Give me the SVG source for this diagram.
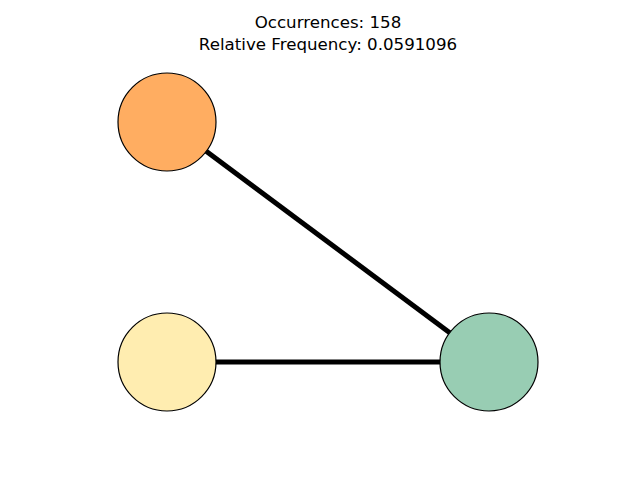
<svg xmlns="http://www.w3.org/2000/svg" width="640" height="480" viewBox="0 0 640 480">
<style>
.node{stroke:#000;stroke-width:1.2}
.edge{stroke:#000;stroke-width:5;fill:none}
.title{font-family:"DejaVu Sans",sans-serif;font-size:16.67px;fill:#000;text-anchor:middle}
</style>
<rect width="640" height="480" fill="#fff"/>
<text class="title" x="328" y="28.3">Occurrences: 158</text>
<text class="title" x="328" y="49.5">Relative Frequency: 0.0591096</text>
<g id="connectors">
<line class="edge" x1="167" y1="122" x2="489" y2="362"/>
<line class="edge" x1="167" y1="362" x2="489" y2="362"/>
</g>
<g id="node-orange"><circle class="node" cx="167" cy="122" r="49" fill="#ffad61"/></g>
<g id="node-yellow"><circle class="node" cx="167" cy="362" r="49" fill="#ffedb0"/></g>
<g id="node-green"><circle class="node" cx="489" cy="362" r="49" fill="#98cdb3"/></g>
</svg>
